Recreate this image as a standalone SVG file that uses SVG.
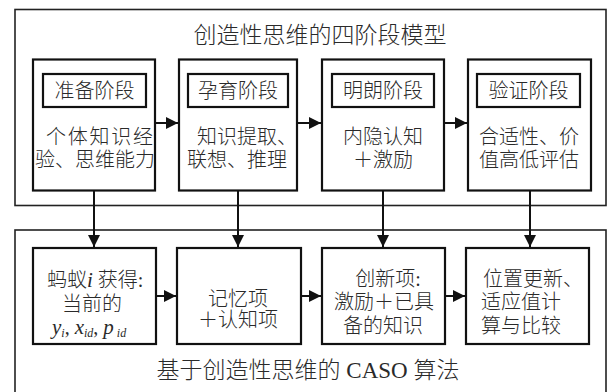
<svg xmlns="http://www.w3.org/2000/svg" width="609" height="392" viewBox="0 0 609 392">
<style>
.bg{fill:#fff}
.outer{fill:none;stroke:#222;stroke-width:1.6}
.box{fill:#fff;stroke:#111;stroke-width:2.2}
.lbl{fill:#fff;stroke:#111;stroke-width:2.2}
.t{font-family:"Liberation Serif","Noto Sans CJK SC",serif;fill:#2a2a2a;font-size:20px;font-weight:300}
.c{text-anchor:middle}
.ttl{font-size:23px}
.v{font-style:italic;font-size:21px}
.s{font-style:italic;font-size:12px}
.conn{stroke:#111;stroke-width:2;fill:none}
</style>
<defs>
<marker id="ah" markerUnits="userSpaceOnUse" markerWidth="12" markerHeight="12" refX="12" refY="6" orient="auto">
<path d="M0,0 L12,6 L0,12 z" fill="#111"/>
</marker>
</defs>
<rect class="bg" x="0" y="0" width="609" height="392"/>
<g id="model">
<rect class="outer" x="15" y="9.5" width="591" height="196"/>
<text class="t c ttl" x="320" y="43">创造性思维的四阶段模型</text>
</g>
<g id="caso">
<rect class="outer" x="15" y="230" width="591" height="175"/>
<text class="t c ttl" x="308" y="378">基于创造性思维的 CASO 算法</text>
</g>
<g id="stage1">
<rect class="box" x="33" y="59.5" width="122" height="131"/>
<rect class="lbl" x="43" y="74" width="103" height="33"/>
<text class="t c" x="94.5" y="98">准备阶段</text>
<text class="t" x="46" y="144" textLength="107" lengthAdjust="spacing">个体知识经</text>
<text class="t" x="35" y="167">验、思维能力</text>
</g>
<g id="stage2">
<rect class="box" x="179" y="59.5" width="118" height="131"/>
<rect class="lbl" x="188" y="74" width="100" height="33"/>
<text class="t c" x="238" y="98">孕育阶段</text>
<text class="t" x="197" y="144">知识提取、</text>
<text class="t" x="187" y="167">联想、推理</text>
</g>
<g id="stage3">
<rect class="box" x="322" y="59.5" width="122" height="131"/>
<rect class="lbl" x="332" y="74" width="102" height="33"/>
<text class="t c" x="383" y="98">明朗阶段</text>
<text class="t c" x="383" y="144">内隐认知</text>
<text class="t c" x="383" y="167">＋激励</text>
</g>
<g id="stage4">
<rect class="box" x="468" y="59.5" width="123" height="131"/>
<rect class="lbl" x="477" y="74" width="103" height="33"/>
<text class="t c" x="528.5" y="98">验证阶段</text>
<text class="t" x="479" y="144">合适性、价</text>
<text class="t" x="479" y="167">值高低评估</text>
</g>
<g id="step1">
<rect class="box" x="33" y="248" width="123" height="96"/>
<text class="t" x="47" y="287">蚂蚁<tspan class="v">i</tspan> 获得:</text>
<text class="t c" x="92" y="311">当前的</text>
<text class="t" x="52" y="334"><tspan class="v">y</tspan><tspan class="s" dy="3">i</tspan><tspan dy="-3">, </tspan><tspan class="v">x</tspan><tspan class="s" dy="3">id</tspan><tspan dy="-3">, </tspan><tspan class="v">p</tspan><tspan class="s" dy="3"> id</tspan></text>
</g>
<g id="step2">
<rect class="box" x="177" y="248" width="124" height="96"/>
<text class="t c" x="238" y="306">记忆项</text>
<text class="t c" x="238" y="327">＋认知项</text>
</g>
<g id="step3">
<rect class="box" x="322" y="248" width="123" height="96"/>
<text class="t c" x="388" y="286">创新项:</text>
<text class="t c" x="384" y="309">激励＋已具</text>
<text class="t c" x="383" y="333">备的知识</text>
</g>
<g id="step4">
<rect class="box" x="466" y="248" width="123" height="96"/>
<text class="t" x="483" y="286">位置更新、</text>
<text class="t" x="481" y="309">适应值计</text>
<text class="t" x="481" y="333">算与比较</text>
</g>
<g id="connectors">
<line class="conn" x1="156" y1="123" x2="178" y2="123" marker-end="url(#ah)"/>
<line class="conn" x1="298" y1="123" x2="321" y2="123" marker-end="url(#ah)"/>
<line class="conn" x1="445" y1="123" x2="467" y2="123" marker-end="url(#ah)"/>
<line class="conn" x1="157" y1="296" x2="176" y2="296" marker-end="url(#ah)"/>
<line class="conn" x1="302" y1="296" x2="321" y2="296" marker-end="url(#ah)"/>
<line class="conn" x1="446" y1="296" x2="465" y2="296" marker-end="url(#ah)"/>
<line class="conn" x1="94" y1="191" x2="94" y2="247" marker-end="url(#ah)"/>
<line class="conn" x1="238" y1="191" x2="238" y2="247" marker-end="url(#ah)"/>
<line class="conn" x1="383" y1="191" x2="383" y2="247" marker-end="url(#ah)"/>
<line class="conn" x1="530" y1="191" x2="530" y2="247" marker-end="url(#ah)"/>
</g>
</svg>
